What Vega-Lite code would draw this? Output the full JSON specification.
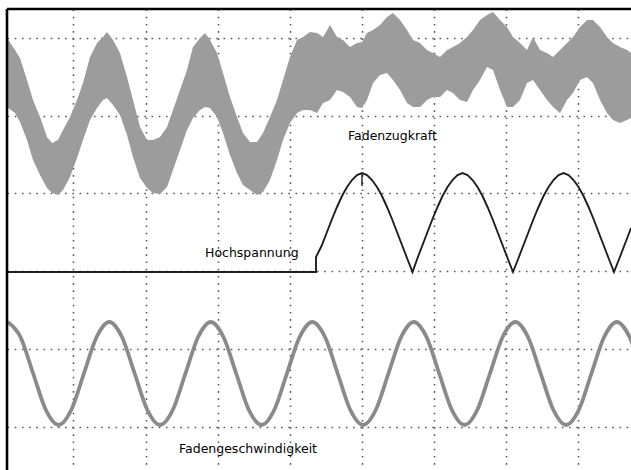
{
  "$schema": "https://vega.github.io/schema/vega-lite/v6.json",
  "width": 624,
  "height": 461,
  "autosize": {"type": "none"},
  "padding": {"left": 7, "top": 9, "right": 0, "bottom": 0},
  "background": "white",
  "config": {
    "view": {"stroke": null},
    "axis": {"labels": false, "ticks": false, "domain": false, "grid": true, "gridColor": "#5a5a5a", "gridDash": [1.6, 5.6], "gridWidth": 1.6, "title": null}
  },
  "datasets": {
    "band": [
      {"t": 0, "hi": 216, "lo": 181.5}, {"t": 2, "hi": 210, "lo": 178.5}, {"t": 3.25, "hi": 206, "lo": 174},
      {"t": 5, "hi": 195, "lo": 165}, {"t": 6.5, "hi": 185, "lo": 155}, {"t": 8.25, "hi": 176.5, "lo": 147.5},
      {"t": 10, "hi": 166.5, "lo": 141}, {"t": 11.25, "hi": 163.5, "lo": 138.5}, {"t": 12.75, "hi": 165, "lo": 137.5},
      {"t": 14, "hi": 170, "lo": 140}, {"t": 15.75, "hi": 176.5, "lo": 146.5}, {"t": 17.5, "hi": 185, "lo": 156},
      {"t": 19, "hi": 193.5, "lo": 165}, {"t": 20.75, "hi": 206.5, "lo": 175}, {"t": 22.5, "hi": 213.5, "lo": 181},
      {"t": 24, "hi": 216.5, "lo": 185}, {"t": 25, "hi": 219, "lo": 186}, {"t": 26.5, "hi": 215, "lo": 182.5},
      {"t": 28.25, "hi": 208.5, "lo": 177.5}, {"t": 30, "hi": 196.5, "lo": 167.5}, {"t": 31.5, "hi": 185, "lo": 156.5},
      {"t": 33.25, "hi": 171.5, "lo": 146}, {"t": 35, "hi": 165, "lo": 141}, {"t": 36.5, "hi": 165, "lo": 138.5},
      {"t": 38.25, "hi": 166.5, "lo": 138}, {"t": 40, "hi": 171.5, "lo": 141.5}, {"t": 41.5, "hi": 180, "lo": 150},
      {"t": 43.25, "hi": 190, "lo": 160}, {"t": 45, "hi": 200, "lo": 170}, {"t": 46.5, "hi": 211.5, "lo": 176},
      {"t": 48.25, "hi": 216, "lo": 180}, {"t": 49.5, "hi": 218.5, "lo": 181.5}, {"t": 50.75, "hi": 215, "lo": 181},
      {"t": 52.5, "hi": 208.5, "lo": 176.5}, {"t": 54, "hi": 198.5, "lo": 168.5}, {"t": 55.75, "hi": 186.5, "lo": 157.5},
      {"t": 57.5, "hi": 176.5, "lo": 148.5}, {"t": 59, "hi": 168.5, "lo": 142.5}, {"t": 60.75, "hi": 164, "lo": 140},
      {"t": 62.5, "hi": 164, "lo": 137.5}, {"t": 64, "hi": 168.5, "lo": 139}, {"t": 65.75, "hi": 176.5, "lo": 145},
      {"t": 67.5, "hi": 185, "lo": 155}, {"t": 69, "hi": 195, "lo": 165}, {"t": 70.75, "hi": 206.5, "lo": 173.5},
      {"t": 72.5, "hi": 215, "lo": 178.5}, {"t": 74, "hi": 216.5, "lo": 180}, {"t": 75.75, "hi": 219, "lo": 180},
      {"t": 77.5, "hi": 218.5, "lo": 178.5}, {"t": 79, "hi": 216.5, "lo": 183.5}, {"t": 80.75, "hi": 222.5, "lo": 185},
      {"t": 82.5, "hi": 216.5, "lo": 190}, {"t": 84, "hi": 215, "lo": 189}, {"t": 85.75, "hi": 211.5, "lo": 186.5},
      {"t": 87.5, "hi": 213.5, "lo": 181.5}, {"t": 88.75, "hi": 214, "lo": 181}, {"t": 90, "hi": 218.5, "lo": 185},
      {"t": 91.5, "hi": 220, "lo": 193.5}, {"t": 93.25, "hi": 222.5, "lo": 197.5}, {"t": 95, "hi": 226.5, "lo": 198.5},
      {"t": 96.5, "hi": 228.5, "lo": 195}, {"t": 98.25, "hi": 225, "lo": 190}, {"t": 100, "hi": 220, "lo": 183.5},
      {"t": 101.5, "hi": 215, "lo": 181.5}, {"t": 103.25, "hi": 213.5, "lo": 181.5}, {"t": 105, "hi": 210, "lo": 185},
      {"t": 106.5, "hi": 208.5, "lo": 186.5}, {"t": 108.25, "hi": 206.5, "lo": 186.5}, {"t": 110, "hi": 210, "lo": 190},
      {"t": 111.5, "hi": 211.5, "lo": 188.5}, {"t": 113.25, "hi": 213.5, "lo": 185}, {"t": 115, "hi": 216.5, "lo": 184},
      {"t": 116.5, "hi": 220, "lo": 190}, {"t": 118.25, "hi": 225, "lo": 195}, {"t": 120, "hi": 227.5, "lo": 201.5},
      {"t": 121.5, "hi": 229, "lo": 200}, {"t": 123.25, "hi": 225, "lo": 190}, {"t": 125, "hi": 221.5, "lo": 181.5},
      {"t": 126.5, "hi": 216.5, "lo": 181.5}, {"t": 128.25, "hi": 213.5, "lo": 185}, {"t": 130, "hi": 210, "lo": 193.5},
      {"t": 131.5, "hi": 216.5, "lo": 195}, {"t": 133.25, "hi": 210, "lo": 190}, {"t": 135, "hi": 208.5, "lo": 185},
      {"t": 136.5, "hi": 206.5, "lo": 181.5}, {"t": 138.25, "hi": 210, "lo": 178.5}, {"t": 140, "hi": 213.5, "lo": 185},
      {"t": 141.5, "hi": 216.5, "lo": 188.5}, {"t": 143.25, "hi": 221.5, "lo": 195}, {"t": 145, "hi": 225, "lo": 196.5},
      {"t": 146.5, "hi": 225, "lo": 193.5}, {"t": 148.25, "hi": 221.5, "lo": 185}, {"t": 150, "hi": 216.5, "lo": 178.5},
      {"t": 151.5, "hi": 213.5, "lo": 175}, {"t": 153.25, "hi": 211.5, "lo": 173.5}, {"t": 155, "hi": 210, "lo": 175},
      {"t": 156, "hi": 208.5, "lo": 176}
    ],
    "hv": [
      {"t": 0, "v": 99}, {"t": 77.25, "v": 99}, {"t": 77.25, "v": 106.5},
      {"t": 78.63, "v": 112}, {"t": 80, "v": 119}, {"t": 81.25, "v": 125.5}, {"t": 82.5, "v": 131.5},
      {"t": 83.75, "v": 137}, {"t": 85, "v": 141.5}, {"t": 86.25, "v": 145}, {"t": 87.5, "v": 147.5},
      {"t": 88.75, "v": 148.5}, {"t": 90, "v": 147.5}, {"t": 91.25, "v": 145}, {"t": 92.5, "v": 141.5},
      {"t": 93.75, "v": 137}, {"t": 95, "v": 131.5}, {"t": 96.25, "v": 125.5}, {"t": 97.5, "v": 119},
      {"t": 98.75, "v": 112.5}, {"t": 100, "v": 106}, {"t": 101.38, "v": 99},
      {"t": 102.63, "v": 106}, {"t": 103.88, "v": 112.5}, {"t": 105.13, "v": 119}, {"t": 106.38, "v": 125.5},
      {"t": 107.63, "v": 131.5}, {"t": 108.88, "v": 137}, {"t": 110.13, "v": 141.5}, {"t": 111.38, "v": 145},
      {"t": 112.63, "v": 147.5}, {"t": 113.88, "v": 148.5}, {"t": 115.13, "v": 147.5}, {"t": 116.38, "v": 145},
      {"t": 117.63, "v": 141.5}, {"t": 118.88, "v": 137}, {"t": 120.13, "v": 131.5}, {"t": 121.38, "v": 125.5},
      {"t": 122.63, "v": 119}, {"t": 123.88, "v": 112.5}, {"t": 125.13, "v": 106}, {"t": 126.5, "v": 99},
      {"t": 127.88, "v": 106}, {"t": 129.13, "v": 112.5}, {"t": 130.38, "v": 119}, {"t": 131.63, "v": 125.5},
      {"t": 132.88, "v": 131.5}, {"t": 134.13, "v": 137}, {"t": 135.38, "v": 141.5}, {"t": 136.63, "v": 145},
      {"t": 137.88, "v": 147.5}, {"t": 139.13, "v": 148.5}, {"t": 140.38, "v": 147.5}, {"t": 141.63, "v": 145},
      {"t": 142.88, "v": 141.5}, {"t": 144.13, "v": 137}, {"t": 145.38, "v": 131.5}, {"t": 146.63, "v": 125.5},
      {"t": 147.88, "v": 119}, {"t": 149.13, "v": 112.5}, {"t": 150.38, "v": 106}, {"t": 151.75, "v": 99},
      {"t": 153.13, "v": 106}, {"t": 154.38, "v": 112.5}, {"t": 155.63, "v": 119}, {"t": 156, "v": 121}
    ],
    "marker": [
      {"t": 88.75, "v": 148.5, "v2": 142}
    ],
    "speed": [
      {"t": 0.2, "v": 74}, {"t": 3.37, "v": 66.5}, {"t": 6.54, "v": 48.25}, {"t": 9.72, "v": 30},
      {"t": 12.89, "v": 22.5}, {"t": 16.06, "v": 30}, {"t": 19.23, "v": 48.25}, {"t": 22.4, "v": 66.5},
      {"t": 25.58, "v": 74}, {"t": 28.75, "v": 66.5}, {"t": 31.92, "v": 48.25}, {"t": 35.09, "v": 30},
      {"t": 38.26, "v": 22.5}, {"t": 41.44, "v": 30}, {"t": 44.61, "v": 48.25}, {"t": 47.78, "v": 66.5},
      {"t": 50.95, "v": 74}, {"t": 54.12, "v": 66.5}, {"t": 57.3, "v": 48.25}, {"t": 60.47, "v": 30},
      {"t": 63.64, "v": 22.5}, {"t": 66.81, "v": 30}, {"t": 69.98, "v": 48.25}, {"t": 73.16, "v": 66.5},
      {"t": 76.33, "v": 74}, {"t": 79.5, "v": 66.5}, {"t": 82.67, "v": 48.25}, {"t": 85.84, "v": 30},
      {"t": 89.02, "v": 22.5}, {"t": 92.19, "v": 30}, {"t": 95.36, "v": 48.25}, {"t": 98.53, "v": 66.5},
      {"t": 101.7, "v": 74}, {"t": 104.88, "v": 66.5}, {"t": 108.05, "v": 48.25}, {"t": 111.22, "v": 30},
      {"t": 114.39, "v": 22.5}, {"t": 117.56, "v": 30}, {"t": 120.74, "v": 48.25}, {"t": 123.91, "v": 66.5},
      {"t": 127.08, "v": 74}, {"t": 130.25, "v": 66.5}, {"t": 133.42, "v": 48.25}, {"t": 136.6, "v": 30},
      {"t": 139.77, "v": 22.5}, {"t": 142.94, "v": 30}, {"t": 146.11, "v": 48.25}, {"t": 149.28, "v": 66.5},
      {"t": 152.46, "v": 74}, {"t": 155.63, "v": 66.5}, {"t": 158.8, "v": 48.25}
    ],
    "labels": [
      {"t": 85.25, "v": 165, "label": "Fadenzugkraft"},
      {"t": 49.5, "v": 106.5, "label": "Hochspannung"},
      {"t": 43, "v": 8.5, "label": "Fadengeschwindigkeit"}
    ],
    "frame": [
      {"t": 0, "v": 230.5}
    ]
  },
  "layer": [
    {
      "data": {"name": "band"},
      "mark": {"type": "area", "color": "#9c9c9c", "interpolate": "linear"},
      "encoding": {
        "x": {"field": "t", "type": "quantitative", "title": null, "scale": {"domain": [0, 156], "nice": false, "zero": false},
              "axis": {"values": [16.5, 34.75, 52.75, 70.75, 88.75, 106.75, 124.75, 142.75]}},
        "y": {"field": "hi", "type": "quantitative", "title": null, "scale": {"domain": [0, 230.5], "nice": false, "zero": false},
              "axis": {"values": [21.5, 60.5, 99.5, 138.5, 177, 216]}},
        "y2": {"field": "lo"}
      }
    },
    {
      "data": {"name": "hv"},
      "mark": {"type": "line", "color": "#1e1e1e", "strokeWidth": 1.9, "interpolate": "linear"},
      "encoding": {
        "x": {"field": "t", "type": "quantitative", "title": null},
        "y": {"field": "v", "type": "quantitative", "title": null}
      }
    },
    {
      "data": {"name": "marker"},
      "mark": {"type": "rule", "color": "#1e1e1e", "strokeWidth": 1.4},
      "encoding": {
        "x": {"field": "t", "type": "quantitative", "title": null},
        "y": {"field": "v", "type": "quantitative", "title": null},
        "y2": {"field": "v2"}
      }
    },
    {
      "data": {"name": "speed"},
      "mark": {"type": "line", "color": "#8a8a8a", "strokeWidth": 3.8, "interpolate": "monotone", "clip": true},
      "encoding": {
        "x": {"field": "t", "type": "quantitative", "title": null},
        "y": {"field": "v", "type": "quantitative", "title": null}
      }
    },
    {
      "data": {"name": "labels"},
      "mark": {"type": "text", "align": "left", "baseline": "alphabetic", "font": "DejaVu Sans", "fontSize": 12.5, "color": "#000000"},
      "encoding": {
        "x": {"field": "t", "type": "quantitative", "title": null},
        "y": {"field": "v", "type": "quantitative", "title": null},
        "text": {"field": "label"}
      }
    },
    {
      "data": {"name": "frame"},
      "mark": {"type": "rule", "color": "#000000", "strokeWidth": 2.6},
      "encoding": {"x": {"field": "t", "type": "quantitative", "title": null}}
    },
    {
      "data": {"name": "frame"},
      "mark": {"type": "rule", "color": "#000000", "strokeWidth": 2.6},
      "encoding": {"y": {"field": "v", "type": "quantitative", "title": null}}
    }
  ]
}
